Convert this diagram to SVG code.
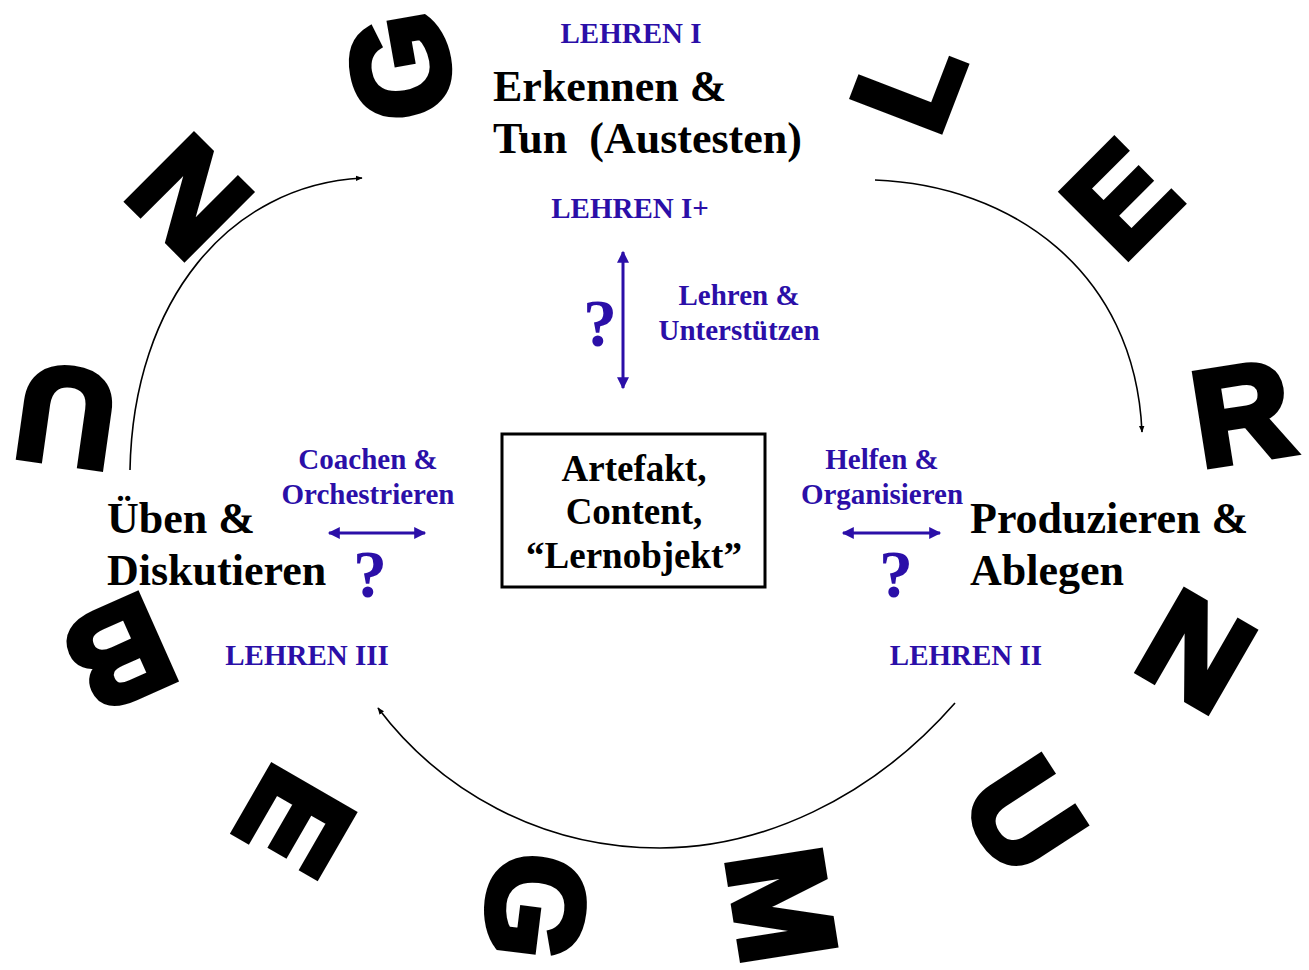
<svg xmlns="http://www.w3.org/2000/svg" width="1309" height="970" viewBox="0 0 1309 970">
<style>
.big{font-family:"Liberation Sans",Arial,sans-serif;font-weight:bold;font-size:135px;fill:#000;stroke:#000;stroke-width:7;stroke-linejoin:miter;text-anchor:middle}
.blue{font-family:"Liberation Serif","Times New Roman",serif;font-weight:bold;font-size:29px;fill:#2B0FA8;text-anchor:middle}
.main{font-family:"Liberation Serif","Times New Roman",serif;font-weight:bold;font-size:44px;fill:#000}
.box{font-family:"Liberation Serif","Times New Roman",serif;font-weight:bold;font-size:37px;fill:#000;text-anchor:middle}
.q{font-family:"Liberation Serif","Times New Roman",serif;font-weight:bold;font-size:68px;fill:#2B0FA8;text-anchor:middle}
.curve{fill:none;stroke:#000;stroke-width:1.6}
.barrow{fill:none;stroke:#2B0FA8;stroke-width:3}
</style>
<defs>
<marker id="ah" viewBox="0 0 10 10" refX="9" refY="5" markerWidth="7" markerHeight="7" orient="auto" markerUnits="userSpaceOnUse">
<path d="M0,1 L10,5 L0,9 Z" fill="#000"/>
</marker>
<marker id="bh" viewBox="0 0 10 10" refX="9" refY="5" markerWidth="14" markerHeight="12" orient="auto-start-reverse" markerUnits="userSpaceOnUse">
<path d="M0,0 L10,5 L0,10 Z" fill="#2B0FA8"/>
</marker>
</defs>
<rect width="1309" height="970" fill="#fff"/>

<g id="ring">
<text class="big" transform="translate(399,67) rotate(-100)" y="48">G</text>
<text class="big" transform="translate(907,83) rotate(-69)" y="48">L</text>
<text class="big" transform="translate(1120,198) rotate(-45)" y="48">E</text>
<text class="big" transform="translate(1242,412) rotate(-9)" y="48">R</text>
<text class="big" transform="translate(1197,650) rotate(30)" y="48">N</text>
<text class="big" transform="translate(1025,815) rotate(57)" y="48">U</text>
<text class="big" transform="translate(783,905) rotate(81)" y="48">M</text>
<text class="big" transform="translate(537,907) rotate(97)" y="48">G</text>
<text class="big" transform="translate(296,822) rotate(120)" y="48">E</text>
<text class="big" transform="translate(120,655) rotate(156)" y="48">B</text>
<text class="big" transform="translate(66,418) rotate(-172)" y="48">U</text>
<text class="big" transform="translate(188,198) rotate(-135)" y="48">N</text>
</g>

<g id="connectors">
<path class="curve" d="M130,470 C133,300 230,185 362,178" marker-end="url(#ah)"/>
<path class="curve" d="M875,180 C1010,185 1135,270 1142,432" marker-end="url(#ah)"/>
<path class="curve" d="M955,703 C870,800 760,848 660,848 C540,848 440,790 378,708" marker-end="url(#ah)"/>
<path class="barrow" d="M623,252 L623,388" marker-start="url(#bh)" marker-end="url(#bh)"/>
<path class="barrow" d="M329,533 L425,533" marker-start="url(#bh)" marker-end="url(#bh)"/>
<path class="barrow" d="M843,533 L940,533" marker-start="url(#bh)" marker-end="url(#bh)"/>
</g>

<g id="node-top">
<text class="blue" x="631" y="43">LEHREN I</text>
<text class="main" x="493" y="101">Erkennen &amp;</text>
<text class="main" x="493" y="153" xml:space="preserve">Tun  (Austesten)</text>
<text class="blue" x="630" y="218">LEHREN I+</text>
</g>

<g id="node-lehren">
<text class="q" x="600" y="346">?</text>
<text class="blue" x="739" y="305">Lehren &amp;</text>
<text class="blue" x="739" y="340">Unterstützen</text>
</g>

<g id="node-center">
<rect x="502" y="434" width="263" height="153" fill="none" stroke="#000" stroke-width="3"/>
<text class="box" x="634" y="481">Artefakt,</text>
<text class="box" x="634" y="524">Content,</text>
<text class="box" x="634" y="568">“Lernobjekt”</text>
</g>

<g id="node-left">
<text class="blue" x="368" y="469">Coachen &amp;</text>
<text class="blue" x="368" y="504">Orchestrieren</text>
<text class="q" x="370" y="597">?</text>
<text class="main" x="107" y="533">Üben &amp;</text>
<text class="main" x="107" y="585">Diskutieren</text>
<text class="blue" x="307" y="665">LEHREN III</text>
</g>

<g id="node-right">
<text class="blue" x="882" y="469">Helfen &amp;</text>
<text class="blue" x="882" y="504">Organisieren</text>
<text class="q" x="896" y="597">?</text>
<text class="main" x="970" y="533">Produzieren &amp;</text>
<text class="main" x="970" y="585">Ablegen</text>
<text class="blue" x="966" y="665">LEHREN II</text>
</g>
</svg>
